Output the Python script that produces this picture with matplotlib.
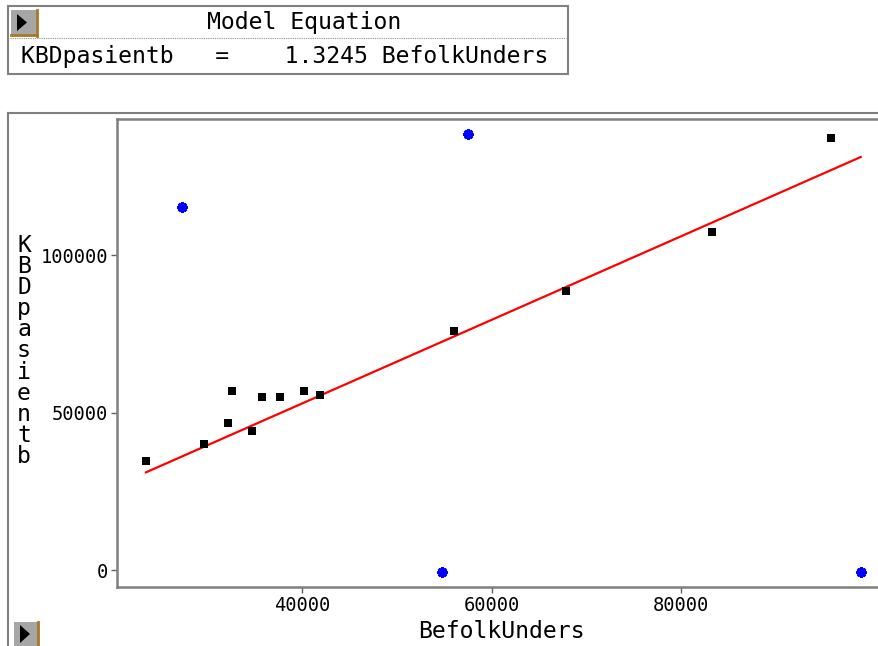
import matplotlib
matplotlib.use("Agg")
import matplotlib.pyplot as plt
from matplotlib.lines import Line2D
from matplotlib.patches import Rectangle, Polygon
import numpy as np

# Observations used in the fit
befolk_fit = [23460, 29590, 32130, 32550, 34660, 35720, 37620, 40160, 41850,
              56010, 67850, 83310, 95820]
kbd_fit = [34600, 40220, 46570, 56830, 44130, 55030, 55030, 56830, 55560,
           75970, 88670, 107210, 137140]

# Observations flagged as excluded
befolk_excl = [27240, 57520, 54770, 98990]
kbd_excl = [115330, 138410, -500, -500]

slope = 1.3245
x_ticks = [40000, 60000, 80000]
y_ticks = [0, 50000, 100000]
x_name = "BefolkUnders"
y_name = "KBDpasientb"

W, H = 879, 646
MONO = "DejaVu Sans Mono"
GRAY = "#7f7f7f"
BROWN = "#a8782a"

fig = plt.figure(figsize=(W / 100, H / 100), dpi=100)
fig.patch.set_facecolor("white")


def fx(px):
    return px / W


def fy(py):
    return 1 - py / H


def fig_line(xs, ys, **kw):
    fig.add_artist(Line2D([fx(v) for v in xs], [fy(v) for v in ys], **kw))


def play_icon(x0, y0, x1, y1, tri):
    fig.add_artist(Rectangle((fx(x0), fy(y1)), fx(x1) - fx(x0), fy(y0) - fy(y1),
                             facecolor="#a6a6a6", edgecolor="none"))
    fig_line([x1 - 1, x1 - 1], [y0, y1], color=BROWN, lw=2)
    fig_line([x0, x1 - 1], [y1 - 1, y1 - 1], color=BROWN, lw=2)
    fig.add_artist(Polygon([(fx(a), fy(b)) for a, b in tri], closed=True,
                           facecolor="black", edgecolor="none"))


# Equation box
fig.add_artist(Rectangle((fx(8), fy(74)), fx(568) - fx(8), fy(6) - fy(74),
                         facecolor="white", edgecolor=GRAY, lw=1.5))
fig_line([10, 566], [37.5, 37.5], color="#909090", lw=0.8, ls=(0, (1, 1)))
play_icon(11, 10, 38, 36, [(17, 14), (17, 31), (27, 22.5)])
fig.text(fx(304), fy(22.5), "Model Equation", family=MONO, fontsize=16.7,
         ha="center", va="center")
fig.text(fx(21), fy(57), f"{y_name}   =    {slope:.4f} {x_name}", family=MONO,
         fontsize=16.7, ha="left", va="center")

# Outer panel frame
fig_line([8, 8], [113, 660], color=GRAY, lw=1.5)
fig_line([8, 890], [113, 113], color=GRAY, lw=1.5)
play_icon(14, 622, 39, 650, [(20, 625), (20, 643), (30, 634)])

# Plot area
ax_l, ax_r, ax_t, ax_b = 117, 886, 119, 587
ax = fig.add_axes([fx(ax_l), fy(ax_b), fx(ax_r) - fx(ax_l), fy(ax_t) - fy(ax_b)])
ax.set_facecolor("white")
ax.set_xlim(20398, 101662)
ax.set_ylim(-5302, 143175)

all_x = befolk_fit + befolk_excl
line_x = np.array([min(all_x), max(all_x)])
ax.plot(line_x, slope * line_x, color="#ff0000", lw=1.6, zorder=2)
ax.plot(befolk_fit, kbd_fit, ls="none", marker="s", markersize=5.8,
        color="black", markeredgewidth=0, zorder=3)
ax.plot(befolk_excl, kbd_excl, ls="none", marker=(8, 2, 0), markersize=7.5,
        color="#0000ff", markeredgewidth=2.0, zorder=3)

ax.spines["right"].set_visible(False)
for side in ("left", "top", "bottom"):
    ax.spines[side].set_color(GRAY)
    ax.spines[side].set_linewidth(1.8)

ax.set_xticks(x_ticks)
ax.set_yticks(y_ticks)
ax.set_xticklabels([str(v) for v in x_ticks])
ax.set_yticklabels([str(v) for v in y_ticks])
ax.tick_params(axis="both", direction="out", length=4.3, width=1, color="#606060",
               labelsize=13.5, pad=2)
for lbl in ax.get_xticklabels() + ax.get_yticklabels():
    lbl.set_family(MONO)

fig.text(fx(501.5), fy(638), x_name, family=MONO, fontsize=16.7,
         ha="center", va="baseline")
for i, ch in enumerate(y_name):
    fig.text(fx(24), fy(252 + 21.1 * i), ch, family=MONO, fontsize=16.7,
             ha="center", va="baseline")

fig.savefig("out.png", dpi=100, facecolor="white")
